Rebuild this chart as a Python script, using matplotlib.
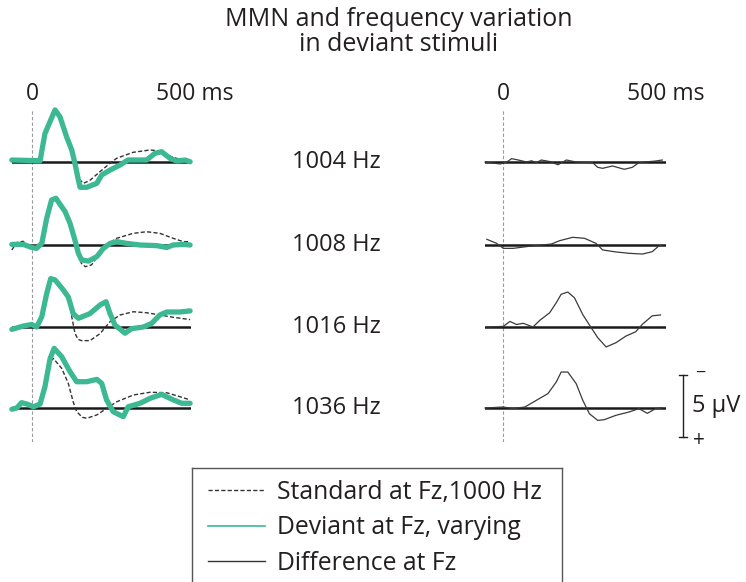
import numpy as np
import matplotlib
matplotlib.use("Agg")
import matplotlib.pyplot as plt
from matplotlib.lines import Line2D
from matplotlib.transforms import blended_transform_factory

plt.rcParams['font.family'] = ['Open Sans', 'DejaVu Sans']

W, H = 746, 582
INK = '#231f20'
GREEN = '#3cb893'

CONDITIONS = ["1004 Hz", "1008 Hz", "1016 Hz", "1036 Hz"]

# (ms, uV); negative is drawn upwards like in the original
STD_1004 = [(-70, -0.16), (28, -0.1), (45, -2.3), (80, -4.1), (97, -3.6), (120, -2.0), (138, -0.95),
            (149, 0.1), (161, 1.3), (178, 1.72), (200, 1.5), (236, 0.78), (271, 0.1), (294, -0.3),
            (351, -0.78), (410, -0.97), (440, -0.9), (468, -0.56), (514, -0.2), (549, -0.08)]
DEV_1004 = [(-70, -0.16), (28, -0.1), (45, -2.3), (80, -4.2), (97, -3.65), (120, -2.04), (138, -0.97),
            (149, 0.1), (161, 1.45), (167, 2.04), (190, 2.04), (225, 1.72), (242, 1.05), (271, 0.65),
            (306, 0.24), (333, -0.16), (398, -0.16), (427, -0.7), (450, -0.83), (479, -0.3),
            (502, -0.08), (531, -0.16), (549, -0.02)]
DIF_1004 = [(-62, 0), (-10, 0.16), (13, 0), (30, -0.27), (53, -0.16), (82, 0), (99, -0.1), (116, 0.05),
            (133, -0.16), (160, -0.05), (191, 0.22), (220, -0.16), (254, 0), (311, 0.05), (329, 0.43),
            (346, 0.51), (380, 0.32), (421, 0.59), (449, 0.43), (472, 0.05), (530, -0.08), (553, -0.16)]

STD_1008 = [(-70, 0.4), (-53, -0.2), (-31, -0.3), (-10, 0.1), (16, 0.27), (34, -0.13), (51, -2.1),
            (68, -3.6), (83, -3.7), (95, -3.3), (115, -2.6), (132, -1.7), (149, -0.3), (161, 0.8),
            (172, 1.5), (185, 1.75), (207, 1.6), (225, 1.0), (248, 0.3), (271, -0.2), (294, -0.54),
            (351, -0.94), (398, -1.07), (444, -0.94), (490, -0.54), (525, -0.27), (549, -0.27)]
DEV_1008 = [(-70, -0.05), (-30, -0.05), (-1, 0.2), (16, 0.27), (34, -0.13), (51, -2.15), (68, -3.63),
            (83, -3.77), (95, -3.36), (115, -2.69), (132, -1.75), (149, -0.4), (161, 0.67), (172, 1.2),
            (196, 1.3), (225, 0.94), (248, 0.27), (271, -0.13), (294, -0.27), (329, -0.13), (375, 0),
            (433, 0.05), (468, 0.2), (490, 0), (525, -0.05), (549, 0)]
DIF_1008 = [(-56, -0.46), (-22, -0.13), (1, 0.27), (35, 0.27), (82, 0.13), (168, -0.08), (197, -0.35),
            (242, -0.62), (283, -0.54), (323, -0.13), (346, 0.4), (392, 0.56), (438, 0.67),
            (484, 0.73), (518, 0.54), (541, 0.08), (553, 0)]

STD_1016 = [(-70, 0.19), (-30, -0.08), (-1, -0.2), (16, 0), (34, -0.83), (51, -2.7), (65, -3.9),
            (80, -3.8), (109, -2.98), (126, -2.42), (138, -0.83), (149, 0.5), (160, 1.0), (172, 1.1),
            (201, 1.1), (236, 0.54), (271, -0.43), (306, -0.97), (352, -1.23), (398, -1.15),
            (444, -0.97), (491, -0.78), (549, -0.6)]
DEV_1016 = [(-70, 0.19), (-30, -0.08), (-1, -0.2), (16, 0), (34, -0.83), (51, -2.7), (65, -3.9),
            (80, -3.8), (109, -2.98), (126, -2.42), (143, -1.08), (161, -0.7), (201, -1.08),
            (236, -1.77), (257, -2.04), (271, -1.08), (288, -0.16), (323, 0.5), (346, 0.13),
            (387, 0), (416, -0.3), (444, -0.97), (468, -1.21), (514, -1.21), (549, -1.3)]
DIF_1016 = [(-56, 0), (1, -0.05), (24, -0.45), (47, -0.2), (70, -0.3), (104, 0), (128, -0.54),
            (162, -1.15), (185, -1.96), (202, -2.64), (225, -2.82), (248, -2.36), (277, -1.0),
            (306, 0.05), (329, 0.86), (358, 1.61), (392, 1.27), (427, 0.73), (461, 0.38),
            (484, -0.22), (518, -0.9), (547, -0.97)]

STD_1036 = [(-70, 0.1), (-53, 0), (-36, -0.43), (-18, -0.32), (5, -0.1), (28, -0.32), (45, -1.72),
            (63, -3.7), (74, -4.0), (103, -3.2), (126, -1.99), (143, -0.5), (155, 0.3), (175, 0.75),
            (190, 0.83), (225, 0.56), (259, 0.03), (294, -0.5), (352, -1.05), (410, -1.27),
            (468, -1.23), (514, -0.91), (549, -0.65)]
DEV_1036 = [(-70, 0.1), (-53, 0), (-36, -0.43), (-18, -0.32), (5, -0.1), (28, -0.32), (45, -1.72),
            (63, -4.0), (77, -4.81), (103, -4.14), (132, -2.93), (155, -2.12), (190, -2.12),
            (225, -2.31), (242, -1.99), (259, -0.65), (282, 0.3), (317, 0.7), (334, -0.1),
            (375, -0.38), (410, -0.78), (450, -1.1), (491, -0.65), (520, -0.38), (549, -0.38)]
DIF_1036 = [(-62, 0), (1, -0.08), (35, 0.05), (76, -0.08), (116, -0.62), (156, -1.16), (185, -2.1),
            (202, -2.9), (225, -2.9), (254, -1.97), (277, -0.62), (300, 0.46), (329, 1.0),
            (352, 0.94), (392, 0.59), (438, 0.32), (472, 0.05), (501, 0.43), (530, 0.05), (553, 0)]

STANDARD = [STD_1004, STD_1008, STD_1016, STD_1036]
DEVIANT = [DEV_1004, DEV_1008, DEV_1016, DEV_1036]
DIFFERENCE = [DIF_1004, DIF_1008, DIF_1016, DIF_1036]

LEGEND_LABELS = ["Standard at Fz,1000 Hz", "Deviant at Fz, varying", "Difference at Fz"]
SCALE_UV = 5

# layout in pixels of the 746x582 picture
PX_MS = 0.288
PX_UV = 12.4
ROW_BASE = [162, 245, 327, 408]
LEFT_ZERO, RIGHT_ZERO = 32, 503
LEFT_LIM, RIGHT_LIM = (-70, 552), (-62, 566)

fig = plt.figure(figsize=(W / 100, H / 100), dpi=100)


def px_axes(x0, y0, x1, y1):
    ax = fig.add_axes([x0 / W, 1 - y1 / H, (x1 - x0) / W, (y1 - y0) / H])
    return ax


def column_box(zero, lim):
    return zero + lim[0] * PX_MS, zero + lim[1] * PX_MS


def row_axes(zero, lim, base):
    x0, x1 = column_box(zero, lim)
    ax = px_axes(x0, base - 60, x1, base + 30)
    ax.set_xlim(*lim)
    ax.set_ylim(30 / PX_UV, -60 / PX_UV)
    ax.axis('off')
    return ax


def arr(pairs):
    a = np.array(pairs, dtype=float)
    return a[:, 0], a[:, 1]


for zero, lim in [(LEFT_ZERO, LEFT_LIM), (RIGHT_ZERO, RIGHT_LIM)]:
    x0, x1 = column_box(zero, lim)
    col = px_axes(x0, 110, x1, 442)
    col.set_xlim(*lim)
    col.axis('off')
    col.axvline(0, color='#9a9a9a', lw=0.8, ls=(0, (3, 2)))
    tr = blended_transform_factory(col.transData, fig.transFigure)
    col.text(0, 1 - 94 / H, '0', transform=tr, ha='center', va='center', fontsize=16.5, color=INK)
    col.annotate('500 ms', xy=(500, 1 - 94 / H), xycoords=tr, xytext=(-14.5, 0),
                 textcoords='offset points', ha='left', va='center', fontsize=16.5, color=INK)

for i, base in enumerate(ROW_BASE):
    ax = row_axes(LEFT_ZERO, LEFT_LIM, base)
    ax.axhline(0, color='#1a1a1a', lw=1.8, zorder=1)
    t, v = arr(STANDARD[i])
    ax.plot(t, v, color='#333333', lw=1.0, ls=(0, (3, 1.6)), zorder=2, clip_on=False)
    t, v = arr(DEVIANT[i])
    ax.plot(t, v, color=GREEN, lw=3.8, solid_joinstyle='round', solid_capstyle='round',
            zorder=3, clip_on=False)

    ax = row_axes(RIGHT_ZERO, RIGHT_LIM, base)
    ax.axhline(0, color='#1a1a1a', lw=1.8, zorder=1)
    t, v = arr(DIFFERENCE[i])
    ax.plot(t, v, color='#3a3a3a', lw=0.9, zorder=2, clip_on=False)

    fig.text(336 / W, 1 - base / H, CONDITIONS[i], ha='center', va='center', fontsize=17, color=INK)

# 5 uV scale bar beside the last difference wave
bar_t = (683 - RIGHT_ZERO) / PX_MS
cap = 4 / PX_MS
top = (375 - ROW_BASE[-1]) / PX_UV
ax.plot([bar_t, bar_t], [top, top + SCALE_UV], color=INK, lw=1.0, clip_on=False)
ax.plot([bar_t - cap, bar_t + cap], [top, top], color=INK, lw=1.0, clip_on=False)
ax.plot([bar_t - cap, bar_t + cap], [top + SCALE_UV, top + SCALE_UV], color=INK, lw=1.0, clip_on=False)
ax.text(bar_t + 12 / PX_MS, top - 0.2, '\u2212', ha='left', va='center', fontsize=13, color=INK)
ax.text(bar_t + 10 / PX_MS, top + SCALE_UV + 0.25, '+', ha='left', va='center', fontsize=15, color=INK)
ax.text(bar_t + 9 / PX_MS, top + SCALE_UV / 2, f'{SCALE_UV} \u00b5V', ha='left', va='center',
        fontsize=17, color=INK)

fig.text(399 / W, 1 - 32 / H, 'MMN and frequency variation\nin deviant stimuli', ha='center',
         va='center', fontsize=18, color=INK, linespacing=1.05)

# legend box, its bottom edge runs off the picture
lax = px_axes(192, 468, 562, 640)
lax.set_xticks([])
lax.set_yticks([])
for name, s in lax.spines.items():
    s.set_color('#555555')
    s.set_linewidth(1.0)
lax.spines['bottom'].set_visible(False)
handles = [Line2D([], [], color='#333333', lw=1.0, ls=(0, (3, 1.6))),
           Line2D([], [], color=GREEN, lw=1.2),
           Line2D([], [], color='#333333', lw=1.0)]
lax.legend(handles, LEGEND_LABELS, loc='upper left', bbox_to_anchor=(208 / W, 1 - 480 / H),
           bbox_transform=fig.transFigure, frameon=False, fontsize=17.8, handlelength=2.3,
           handletextpad=0.48, labelspacing=0.42, borderpad=0, borderaxespad=0, labelcolor=INK)

fig.savefig('out.png', dpi=100)
